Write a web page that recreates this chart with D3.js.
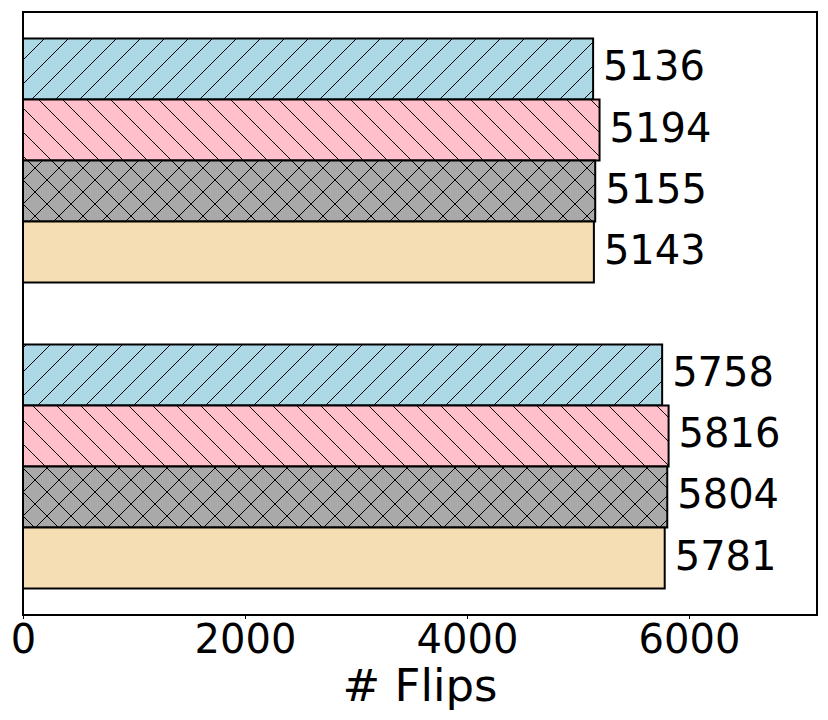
<!DOCTYPE html>
<html>
<head>
<meta charset="utf-8">
<script src="https://cdn.jsdelivr.net/npm/d3@7"></script>
<style>
  html, body { margin: 0; padding: 0; background: #fff; }
  svg { display: block; font-family: "DejaVu Sans", sans-serif; }
</style>
</head>
<body>
<div id="chart"></div>
<script>
// ---- data ----
const groups = ["Group 1", "Group 2"];
const seriesNames = ["Series A", "Series B", "Series C", "Series D"];
const seriesColors = ["#ADD8E6", "#FFC0CB", "#A9A9A9", "#F5DEB3"];
const seriesHatches = ["/", "\\", "x", ""];
const valuesA = [5136, 5758];
const valuesB = [5194, 5816];
const valuesC = [5155, 5804];
const valuesD = [5143, 5781];
const xTicks = [0, 2000, 4000, 6000];
const xMax = 7153;
const xLabel = "# Flips";

const seriesValues = [valuesA, valuesB, valuesC, valuesD];
const data = [];
groups.forEach((g, gi) => {
  seriesNames.forEach((s, si) => {
    data.push({ group: g, series: s, si, value: seriesValues[si][gi] });
  });
});

const W = 828, H = 720;
const margin = { left: 23, right: 11, top: 12, bottom: 105 };
const plotW = W - margin.left - margin.right;
const plotH = H - margin.top - margin.bottom;

const svg = d3.select("#chart").append("svg")
  .attr("width", W).attr("height", H);

// hatch patterns
const defs = svg.append("defs");
const P = 24;
function addPattern(id, color, hatch) {
  const p = defs.append("pattern")
    .attr("id", id).attr("patternUnits", "userSpaceOnUse")
    .attr("width", P).attr("height", P);
  p.append("rect").attr("width", P).attr("height", P).attr("fill", color);
  const line = (x1, y1, x2, y2) => p.append("line")
    .attr("x1", x1).attr("y1", y1).attr("x2", x2).attr("y2", y2)
    .attr("stroke", "#000").attr("stroke-width", 1);
  if (hatch === "/" || hatch === "x") {
    line(-2, P + 2, P + 2, -2); line(-2, 2, 2, -2); line(P - 2, P + 2, P + 2, P - 2);
  }
  if (hatch === "\\" || hatch === "x") {
    line(-2, -2, P + 2, P + 2); line(-2, P - 2, 2, P + 2); line(P - 2, -2, P + 2, 2);
  }
}
seriesNames.forEach((s, i) => addPattern("pat" + i, seriesColors[i], seriesHatches[i]));

const g = svg.append("g").attr("transform", `translate(${margin.left},${margin.top})`);

const x = d3.scaleLinear().domain([0, xMax]).range([0, plotW]);
const y0 = d3.scaleBand().domain(groups).range([0, plotH])
  .paddingInner(0.2026).paddingOuter(0.0866);
const y1 = d3.scaleBand().domain(seriesNames).range([0, y0.bandwidth()]).padding(0);

// bars
g.selectAll("rect.bar").data(data).join("rect")
  .attr("class", "bar")
  .attr("x", x(0))
  .attr("y", d => y0(d.group) + y1(d.series))
  .attr("width", d => x(d.value) - x(0))
  .attr("height", y1.bandwidth())
  .attr("fill", d => `url(#pat${d.si})`)
  .attr("stroke", "#000").attr("stroke-width", 2);

// value labels
g.selectAll("text.val").data(data).join("text")
  .attr("class", "val")
  .attr("x", d => x(d.value) + 10)
  .attr("y", d => y0(d.group) + y1(d.series) + y1.bandwidth() / 2 + 11.5)
  .attr("font-size", 40)
  .attr("fill", "#000")
  .text(d => d.value);

// frame
g.append("rect").attr("x", 0).attr("y", 0).attr("width", plotW).attr("height", plotH)
  .attr("fill", "none").attr("stroke", "#000").attr("stroke-width", 2);

// x axis
const xAxis = g.append("g").attr("transform", `translate(0,${plotH})`)
  .call(d3.axisBottom(x).tickValues(xTicks).tickFormat(d3.format("d")).tickSizeOuter(0).tickSize(4).tickPadding(8));
xAxis.select(".domain").remove();
xAxis.selectAll("line").attr("stroke", "#000").attr("stroke-width", 1);
xAxis.selectAll("text")
  .attr("font-size", 40)
  .attr("font-family", "DejaVu Sans")
  .attr("fill", "#000")
  .attr("dy", null)
  .attr("y", 38);

g.append("text")
  .attr("x", plotW / 2).attr("y", plotH + 86)
  .attr("text-anchor", "middle").attr("font-size", 45).attr("fill", "#000")
  .text(xLabel);
</script>
</body>
</html>
